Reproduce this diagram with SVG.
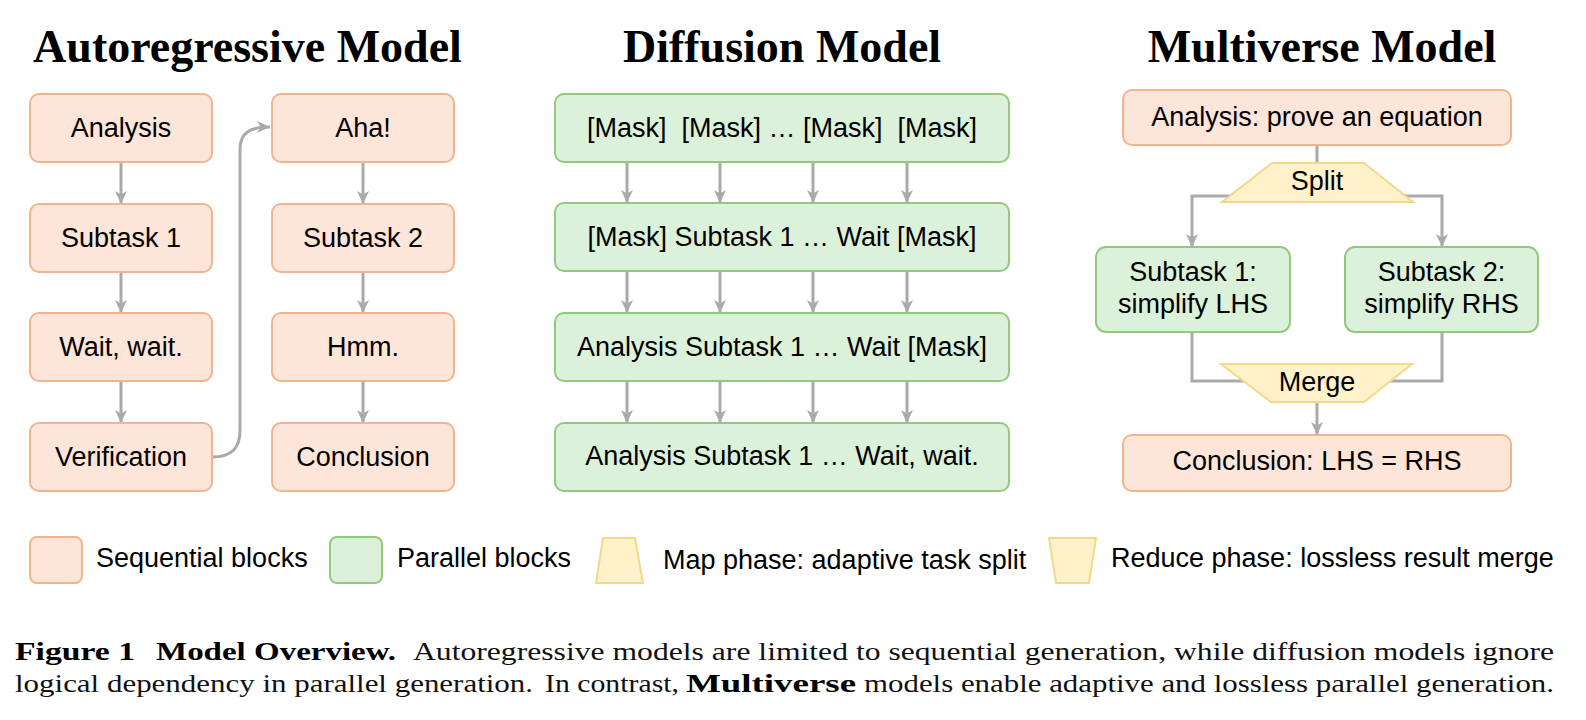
<svg xmlns="http://www.w3.org/2000/svg" width="1586" height="720" viewBox="0 0 1586 720">
<defs>
<style>
.title{font-family:"Liberation Serif","Times New Roman",serif;font-weight:bold;font-size:46px;fill:#000;text-anchor:middle}
.lbl{font-family:"Liberation Sans",Arial,sans-serif;font-size:27px;fill:#000;text-anchor:middle}
.leg{font-family:"Liberation Sans",Arial,sans-serif;font-size:27px;fill:#000}
.cap{font-family:"Liberation Serif","Times New Roman",serif;font-size:26px;fill:#111}
.capb{font-family:"Liberation Serif","Times New Roman",serif;font-size:26px;font-weight:bold;fill:#000}
.seq{fill:#fde5d9;stroke:#f0b58e;stroke-width:2}
.par{fill:#dcf1da;stroke:#92c97c;stroke-width:2}
.map{fill:#fff1c8;stroke:#f3d88c;stroke-width:2}
.con{fill:none;stroke:#aaaaaa;stroke-width:3}
</style>
<marker id="arr" markerUnits="userSpaceOnUse" markerWidth="14" markerHeight="14" viewBox="0 0 14 14" refX="13" refY="7" orient="auto">
<path d="M0,1 L13,7 L0,13 L3.5,7 z" fill="#aaaaaa"/>
</marker>
</defs>
<rect width="1586" height="720" fill="#fff"/>

<text class="title" x="247.5" y="62">Autoregressive Model</text>
<text class="title" x="782" y="62">Diffusion Model</text>
<text class="title" x="1322" y="62">Multiverse Model</text>

<g id="connectors">
<line class="con" x1="121" y1="162" x2="121" y2="204" marker-end="url(#arr)"/>
<line class="con" x1="121" y1="272" x2="121" y2="313" marker-end="url(#arr)"/>
<line class="con" x1="121" y1="381" x2="121" y2="423" marker-end="url(#arr)"/>
<path class="con" d="M212,457 C232,457 240,448 240,430 L240,150 C240,134 248,127 270,127" marker-end="url(#arr)"/>
<line class="con" x1="363" y1="162" x2="363" y2="204" marker-end="url(#arr)"/>
<line class="con" x1="363" y1="272" x2="363" y2="313" marker-end="url(#arr)"/>
<line class="con" x1="363" y1="381" x2="363" y2="423" marker-end="url(#arr)"/>

<line class="con" x1="627" y1="162" x2="627" y2="203" marker-end="url(#arr)"/>
<line class="con" x1="720" y1="162" x2="720" y2="203" marker-end="url(#arr)"/>
<line class="con" x1="813" y1="162" x2="813" y2="203" marker-end="url(#arr)"/>
<line class="con" x1="907" y1="162" x2="907" y2="203" marker-end="url(#arr)"/>
<line class="con" x1="627" y1="271" x2="627" y2="313" marker-end="url(#arr)"/>
<line class="con" x1="720" y1="271" x2="720" y2="313" marker-end="url(#arr)"/>
<line class="con" x1="813" y1="271" x2="813" y2="313" marker-end="url(#arr)"/>
<line class="con" x1="907" y1="271" x2="907" y2="313" marker-end="url(#arr)"/>
<line class="con" x1="627" y1="381" x2="627" y2="423" marker-end="url(#arr)"/>
<line class="con" x1="720" y1="381" x2="720" y2="423" marker-end="url(#arr)"/>
<line class="con" x1="813" y1="381" x2="813" y2="423" marker-end="url(#arr)"/>
<line class="con" x1="907" y1="381" x2="907" y2="423" marker-end="url(#arr)"/>

<line class="con" x1="1317" y1="145" x2="1317" y2="165"/>
<polyline class="con" points="1240,196 1192,196 1192,247" marker-end="url(#arr)"/>
<polyline class="con" points="1395,196 1442,196 1442,247" marker-end="url(#arr)"/>
<polyline class="con" points="1192,332 1192,381 1250,381"/>
<polyline class="con" points="1442,332 1442,381 1385,381"/>
<line class="con" x1="1317" y1="402" x2="1317" y2="435" marker-end="url(#arr)"/>
</g>

<g id="ar-analysis"><rect class="seq" x="30" y="94" width="182" height="68" rx="9"/><text class="lbl" x="121" y="137">Analysis</text></g>
<g id="ar-subtask1"><rect class="seq" x="30" y="204" width="182" height="68" rx="9"/><text class="lbl" x="121" y="247">Subtask 1</text></g>
<g id="ar-wait"><rect class="seq" x="30" y="313" width="182" height="68" rx="9"/><text class="lbl" x="121" y="356">Wait, wait.</text></g>
<g id="ar-verification"><rect class="seq" x="30" y="423" width="182" height="68" rx="9"/><text class="lbl" x="121" y="466">Verification</text></g>
<g id="ar-aha"><rect class="seq" x="272" y="94" width="182" height="68" rx="9"/><text class="lbl" x="363" y="137">Aha!</text></g>
<g id="ar-subtask2"><rect class="seq" x="272" y="204" width="182" height="68" rx="9"/><text class="lbl" x="363" y="247">Subtask 2</text></g>
<g id="ar-hmm"><rect class="seq" x="272" y="313" width="182" height="68" rx="9"/><text class="lbl" x="363" y="356">Hmm.</text></g>
<g id="ar-conclusion"><rect class="seq" x="272" y="423" width="182" height="68" rx="9"/><text class="lbl" x="363" y="466">Conclusion</text></g>

<g id="df-row1"><rect class="par" x="555" y="94" width="454" height="68" rx="9"/><text class="lbl" x="782" y="137" xml:space="preserve">[Mask]  [Mask] … [Mask]  [Mask]</text></g>
<g id="df-row2"><rect class="par" x="555" y="203" width="454" height="68" rx="9"/><text class="lbl" x="782" y="246">[Mask] Subtask 1 … Wait [Mask]</text></g>
<g id="df-row3"><rect class="par" x="555" y="313" width="454" height="68" rx="9"/><text class="lbl" x="782" y="356">Analysis Subtask 1 … Wait [Mask]</text></g>
<g id="df-row4"><rect class="par" x="555" y="423" width="454" height="68" rx="9"/><text class="lbl" x="782" y="465">Analysis Subtask 1 … Wait, wait.</text></g>

<g id="mv-analysis"><rect class="seq" x="1123" y="90" width="388" height="55" rx="9"/><text class="lbl" x="1317" y="126">Analysis: prove an equation</text></g>
<g id="mv-split"><polygon class="map" points="1272,163 1364,163 1413,202 1222,202"/><text class="lbl" x="1317" y="190">Split</text></g>
<g id="mv-subtask1"><rect class="par" x="1096" y="247" width="194" height="85" rx="10"/><text class="lbl" x="1193" y="281">Subtask 1:</text><text class="lbl" x="1193" y="313">simplify LHS</text></g>
<g id="mv-subtask2"><rect class="par" x="1345" y="247" width="193" height="85" rx="10"/><text class="lbl" x="1441.5" y="281">Subtask 2:</text><text class="lbl" x="1441.5" y="313">simplify RHS</text></g>
<g id="mv-merge"><polygon class="map" points="1221,364 1412,364 1364,402 1271,402"/><text class="lbl" x="1317" y="391">Merge</text></g>
<g id="mv-conclusion"><rect class="seq" x="1123" y="435" width="388" height="56" rx="9"/><text class="lbl" x="1317" y="470">Conclusion: LHS = RHS</text></g>

<g id="legend">
<rect class="seq" x="30" y="537" width="52" height="46" rx="7"/>
<text class="leg" x="96" y="567">Sequential blocks</text>
<rect class="par" x="330" y="537" width="52" height="46" rx="7"/>
<text class="leg" x="397" y="567">Parallel blocks</text>
<polygon class="map" points="603,538 635,538 643,583 596,583"/>
<text class="leg" x="663" y="569">Map phase: adaptive task split</text>
<polygon class="map" points="1049,538 1096,538 1089,583 1056,583"/>
<text class="leg" x="1111" y="567">Reduce phase: lossless result merge</text>
</g>

<g id="caption">
<text class="capb" x="15" y="660" textLength="120" lengthAdjust="spacingAndGlyphs">Figure 1</text>
<text class="capb" x="156" y="660" textLength="240" lengthAdjust="spacingAndGlyphs">Model Overview.</text>
<text class="cap" x="413" y="660" textLength="1141" lengthAdjust="spacingAndGlyphs">Autoregressive models are limited to sequential generation, while diffusion models ignore</text>
<text class="cap" x="15" y="692" textLength="518" lengthAdjust="spacingAndGlyphs">logical dependency in parallel generation.</text>
<text class="cap" x="545" y="692" textLength="134" lengthAdjust="spacingAndGlyphs">In contrast,</text>
<text class="capb" x="686" y="692" textLength="170" lengthAdjust="spacingAndGlyphs">Multiverse</text>
<text class="cap" x="864" y="692" textLength="690" lengthAdjust="spacingAndGlyphs">models enable adaptive and lossless parallel generation.</text>
</g>
</svg>
